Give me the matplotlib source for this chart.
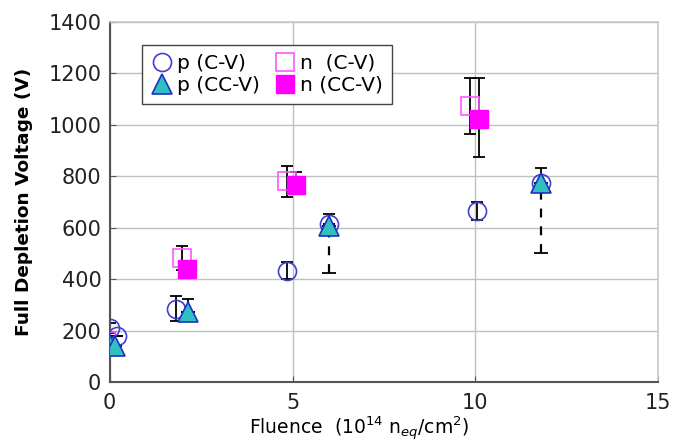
import matplotlib.pyplot as plt

# p-type, C-V
p_cv_x = [0.0, 0.2, 1.8, 4.85, 6.0, 10.05, 11.8]
p_cv_y = [210, 180, 285, 432, 615, 665, 775]
p_cv_err = [20, 0, 48, 33, 0, 35, 0]

# p-type, CC-V
p_ccv_x = [-0.05, 0.15, 2.14, 6.0, 11.8]
p_ccv_y = [160, 140, 272, 608, 772]
p_ccv_lo = [0, 0, 35, 0, 0]
p_ccv_hi = [0, 0, 51, 45, 60]
p_ccv_dash_lo = [0, 0, 0, 186, 272]

# n-type, C-V
n_cv_x = [-0.1, 1.98, 4.85, 9.86]
n_cv_y = [158, 482, 780, 1073]
n_cv_err = [0, 47, 60, 109]

# n-type, CC-V
n_ccv_x = [2.12, 5.1, 10.1]
n_ccv_y = [440, 766, 1022]
n_ccv_lo = [0, 36, 147]
n_ccv_hi = [0, 51, 160]

fig = plt.figure(figsize=(6.73, 4.46), dpi=100)
ax = fig.add_axes([0.163, 0.1435, 0.815, 0.8075])

ek = dict(fmt="none", ecolor="black", elinewidth=1.3, capsize=4, capthick=1.3, zorder=2)
ax.errorbar(p_cv_x, p_cv_y, yerr=p_cv_err, **ek)
ax.errorbar(p_ccv_x, p_ccv_y, yerr=[p_ccv_lo, p_ccv_hi], **ek)
eb = ax.errorbar(p_ccv_x, p_ccv_y, yerr=[p_ccv_dash_lo, [0] * len(p_ccv_x)],
                 fmt="none", ecolor="black", elinewidth=1.6, capsize=5, capthick=1.3, zorder=2)
eb[2][0].set_linestyle((0, (4, 4)))
ax.errorbar(n_cv_x, n_cv_y, yerr=n_cv_err, **ek)
ax.errorbar(n_ccv_x, n_ccv_y, yerr=[n_ccv_lo, n_ccv_hi], **ek)

ax.plot(n_cv_x, n_cv_y, "s", ms=12.5, mfc="none", mec="#ff55ff", mew=1.2,
        ls="none", label="n  (C-V)", zorder=3)
ax.plot(n_ccv_x, n_ccv_y, "s", ms=12.5, mfc="#ff00ff", mec="#ff00ff",
        ls="none", label="n (CC-V)", zorder=4)
ax.plot(p_cv_x, p_cv_y, "o", ms=13, mfc="none", mec="#4040d0", mew=1.2,
        ls="none", label="p (C-V)", zorder=3)
ax.plot(p_ccv_x, p_ccv_y, "^", ms=14, mfc="#30c0c0", mec="#2030c0", mew=1.2,
        ls="none", label="p (CC-V)", zorder=4)

ax.set_xlim(0, 15)
ax.set_ylim(0, 1400)
ax.set_xticks([0, 5, 10, 15])
ax.set_yticks(range(0, 1401, 200))
ax.grid(True, color="#c0c0c0", lw=1)
ax.set_axisbelow(True)
ax.tick_params(direction="in", length=4, labelsize=15, colors="#555555", labelcolor="#222222")
ax.tick_params(axis="y", pad=6)
ax.tick_params(axis="x", pad=8)

for s in ["top", "right"]:
    ax.spines[s].set_color("#c8c8c8")
    ax.spines[s].set_linewidth(1.2)
for s in ["left", "bottom"]:
    ax.spines[s].set_color("#555555")
    ax.spines[s].set_linewidth(1.5)

ax.set_ylabel("Full Depletion Voltage (V)", fontsize=13.3, fontweight="bold")
ax.set_xlabel("Fluence  (10$^{14}$ n$_{eq}$/cm$^{2}$)", fontsize=13.5)
ax.xaxis.set_label_coords(0.454, -0.093)
ax.yaxis.set_label_coords(-0.14, 0.5)

h, l = ax.get_legend_handles_labels()
order = [2, 3, 0, 1]
leg = ax.legend([h[i] for i in order], [l[i] for i in order], ncol=2,
                loc="upper left", bbox_to_anchor=(0.058, 0.936), borderaxespad=0,
                fontsize=14.5, fancybox=False, framealpha=1, edgecolor="#444444",
                handletextpad=0.2, columnspacing=0.7, handlelength=1.1,
                borderpad=0.45, labelspacing=0.15)
leg.get_frame().set_linewidth(1)

plt.savefig("out.png", dpi=100)
